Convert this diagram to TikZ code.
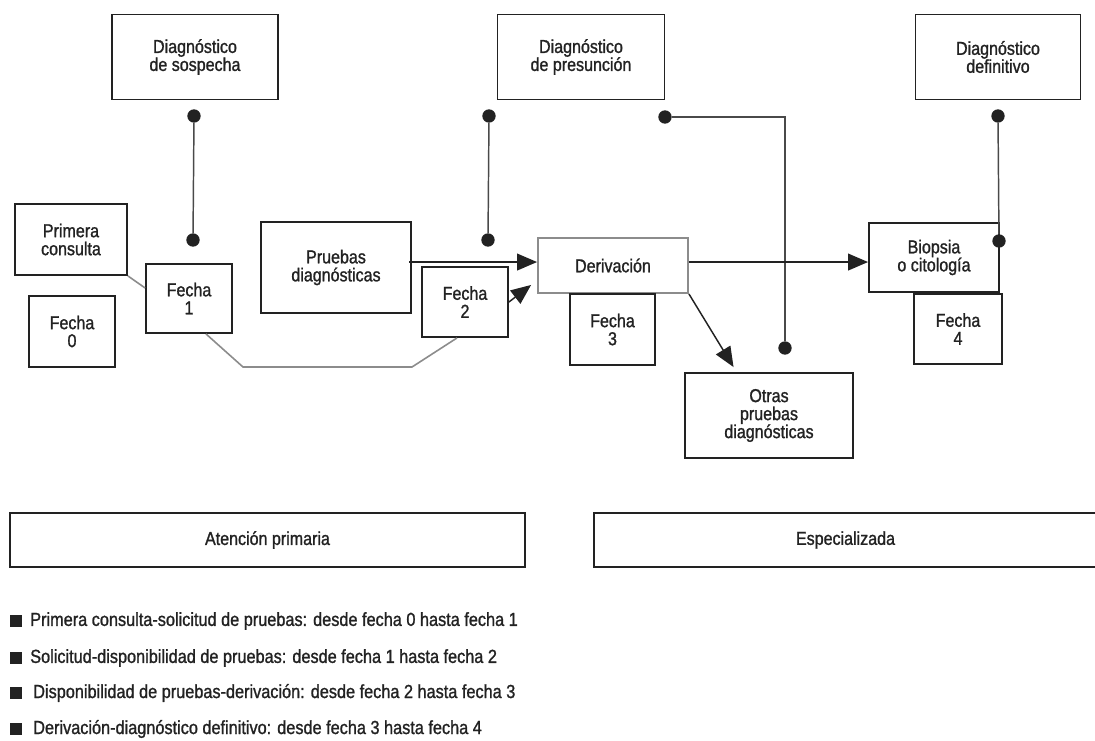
\documentclass[tikz,border=0pt]{standalone}
\usepackage{fontspec}
\setmainfont{Liberation Sans}[FakeStretch=0.86, FakeBold=1.2]
\usetikzlibrary{arrows.meta}
\definecolor{ink}{HTML}{222222}
\definecolor{wire}{HTML}{4A4A4A}
\definecolor{softline}{HTML}{8C8C8C}
\tikzset{
  box/.style={draw=ink, line width=1.4pt, align=center, inner sep=0pt,
    font=\fontsize{14}{13.5}\selectfont, text=ink},
  softbox/.style={box, draw=softline},
  dot/.style={circle, fill=ink, inner sep=0pt, minimum size=10pt},
  link/.style={draw=wire, line width=1.1pt},
  softlink/.style={draw=softline, line width=1.2pt},
  arrowlink/.style={draw=ink, line width=1.4pt, -{Triangle[length=15pt,width=12.5pt]}},
  thinarrow/.style={draw=ink, line width=1.1pt, -{Triangle[length=15pt,width=12.5pt]}},
  key/.style={anchor=west, font=\fontsize{14.2}{14}\selectfont, text=ink, inner sep=0pt},
  keymark/.style={fill=ink, minimum size=8.5pt, inner sep=0pt}
}
\begin{document}
\begin{tikzpicture}[x=0.75pt,y=-0.75pt]
\useasboundingbox (0,0) rectangle (1095,740);

% diagnosis boxes along the top
\node[box, minimum width=166*0.75pt, minimum height=85*0.75pt] (dsos) at (195,57) {Diagnóstico\\de sospecha};
\node[box, minimum width=167*0.75pt, minimum height=85*0.75pt] (dpre) at (581,57) {Diagnóstico\\de presunción};
\node[box, minimum width=165*0.75pt, minimum height=85*0.75pt] (ddef) at (998,57) {Diagnóstico\\definitivo};

% primary-care steps
\node[box, minimum width=112*0.75pt, minimum height=71*0.75pt] (prim) at (71,239.5) {Primera\\consulta};
\node[box, minimum width=86*0.75pt, minimum height=71*0.75pt] (f0) at (72,331.5) {Fecha\\0};
\node[box, minimum width=86*0.75pt, minimum height=69*0.75pt] (f1) at (189,298.5) {Fecha\\1};
\node[box, minimum width=150*0.75pt, minimum height=91*0.75pt] (prue) at (336,267.5) {Pruebas\\diagnósticas};
\node[box, minimum width=86*0.75pt, minimum height=70*0.75pt] (f2) at (465,302) {Fecha\\2};

% specialised-care steps
\node[softbox, minimum width=150*0.75pt, minimum height=55*0.75pt] (deri) at (613,265.5) {Derivación};
\node[box, minimum width=85*0.75pt, minimum height=71*0.75pt] (f3) at (612.5,329.5) {Fecha\\3};
\node[box, minimum width=168*0.75pt, minimum height=85*0.75pt] (otras) at (769,415.5) {Otras\\pruebas\\diagnósticas};
\node[box, minimum width=130*0.75pt, minimum height=69*0.75pt] (biop) at (934,257.5) {Biopsia\\o citología};
\node[box, minimum width=88*0.75pt, minimum height=70*0.75pt] (f4) at (958,329) {Fecha\\4};

% care-level bands
\node[box, minimum width=515*0.75pt, minimum height=54*0.75pt] (ap) at (267.5,540) {Atención primaria};
\node[box, minimum width=503*0.75pt, minimum height=54*0.75pt] (esp) at (845.5,540) {Especializada};

% dot connectors
\node[dot] (a1) at (194,116) {};
\node[dot] (a2) at (193,240) {};
\node[dot] (b1) at (489,116) {};
\node[dot] (b2) at (488,240) {};
\node[dot] (c1) at (665,117) {};
\node[dot] (c2) at (785,348) {};
\node[dot] (e1) at (998,116) {};
\node[dot] (e2) at (999,241) {};
\draw[link] (a1) -- (a2);
\draw[link] (b1) -- (b2);
\draw[link] (c1) -- (c1 -| c2) -- (c2);
\draw[link] (e1) -- (e2);

% flow
\draw[softlink] (prim.south east) -- ([yshift=7.9pt]f1.west);
\coordinate (lowA) at (243,367);
\coordinate (lowB) at (412,367);
\draw[softlink] ([xshift=12.75pt]f1.south) -- (lowA) -- (lowB) -- ([xshift=-6pt]f2.south);
\coordinate (inA) at ([yshift=2.6pt]deri.west);
\draw[arrowlink] ([xshift=-2pt]prue.east |- inA) -- (inA);
\draw[thinarrow] (f2.east) -- ([xshift=-4.5pt,yshift=-14.6pt]deri.west);
\draw[arrowlink] ([yshift=2.6pt]deri.east) -- ([yshift=2.6pt]deri.east -| biop.west);
\draw[thinarrow] (deri.south east) -- ([xshift=-26.6pt,yshift=3.75pt]otras.north);

% legend
\foreach \yy/\xx/\txt [count=\i] in {
  621/30/{Primera consulta-solicitud de pruebas: desde fecha 0 hasta fecha 1},
  658/30/{Solicitud-disponibilidad de pruebas: desde fecha 1 hasta fecha 2},
  693/33/{Disponibilidad de pruebas-derivación: desde fecha 2 hasta fecha 3},
  729/33/{Derivación-diagnóstico definitivo: desde fecha 3 hasta fecha 4}} {
  \node[keymark] (m\i) at (16,\yy) {};
  \node[key] (k\i) at (\xx,\yy) {\txt};
}
\end{tikzpicture}
\end{document}
